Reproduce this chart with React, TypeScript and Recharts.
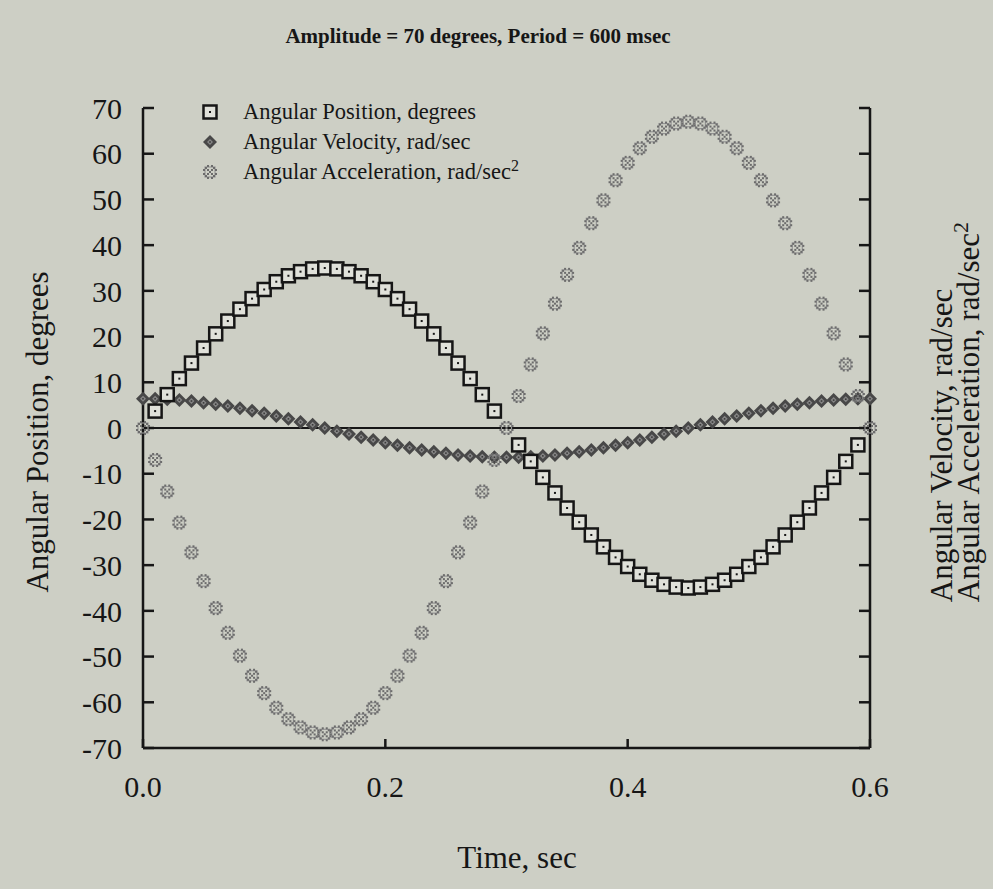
import React from "react";
import { ScatterChart, Scatter, XAxis, YAxis, ReferenceLine, Legend } from "recharts";

// sample times, sec
const TIME = [
  0, 0.01, 0.02, 0.03, 0.04, 0.05, 0.06, 0.07, 0.08, 0.09,
  0.1, 0.11, 0.12, 0.13, 0.14, 0.15, 0.16, 0.17, 0.18, 0.19,
  0.2, 0.21, 0.22, 0.23, 0.24, 0.25, 0.26, 0.27, 0.28, 0.29,
  0.3, 0.31, 0.32, 0.33, 0.34, 0.35, 0.36, 0.37, 0.38, 0.39,
  0.4, 0.41, 0.42, 0.43, 0.44, 0.45, 0.46, 0.47, 0.48, 0.49,
  0.5, 0.51, 0.52, 0.53, 0.54, 0.55, 0.56, 0.57, 0.58, 0.59, 0.6,
];

// degrees (no square shows where the position is exactly zero)
const POSITION: (number | null)[] = [
  null, 3.7, 7.3, 10.8, 14.2, 17.5, 20.6, 23.4, 26.0, 28.3,
  30.3, 32.0, 33.3, 34.2, 34.8, 35.0, 34.8, 34.2, 33.3, 32.0,
  30.3, 28.3, 26.0, 23.4, 20.6, 17.5, 14.2, 10.8, 7.3, 3.7,
  null, -3.7, -7.3, -10.8, -14.2, -17.5, -20.6, -23.4, -26.0, -28.3,
  -30.3, -32.0, -33.3, -34.2, -34.8, -35.0, -34.8, -34.2, -33.3, -32.0,
  -30.3, -28.3, -26.0, -23.4, -20.6, -17.5, -14.2, -10.8, -7.3, -3.7, null,
];

// rad/sec
const VELOCITY = [
  6.4, 6.4, 6.3, 6.1, 5.9, 5.5, 5.2, 4.8, 4.3, 3.8,
  3.2, 2.6, 2.0, 1.3, 0.7, 0, -0.7, -1.3, -2.0, -2.6,
  -3.2, -3.8, -4.3, -4.8, -5.2, -5.5, -5.9, -6.1, -6.3, -6.4,
  -6.4, -6.4, -6.3, -6.1, -5.9, -5.5, -5.2, -4.8, -4.3, -3.8,
  -3.2, -2.6, -2.0, -1.3, -0.7, 0, 0.7, 1.3, 2.0, 2.6,
  3.2, 3.8, 4.3, 4.8, 5.2, 5.5, 5.9, 6.1, 6.3, 6.4, 6.4,
];

// rad/sec^2
const ACCELERATION = [
  0, -7.0, -13.9, -20.7, -27.2, -33.5, -39.4, -44.8, -49.8, -54.2,
  -58.0, -61.2, -63.7, -65.5, -66.6, -67.0, -66.6, -65.5, -63.7, -61.2,
  -58.0, -54.2, -49.8, -44.8, -39.4, -33.5, -27.2, -20.7, -13.9, -7.0,
  0, 7.0, 13.9, 20.7, 27.2, 33.5, 39.4, 44.8, 49.8, 54.2,
  58.0, 61.2, 63.7, 65.5, 66.6, 67.0, 66.6, 65.5, 63.7, 61.2,
  58.0, 54.2, 49.8, 44.8, 39.4, 33.5, 27.2, 20.7, 13.9, 7.0, 0,
];

const X_TICKS = [0, 0.2, 0.4, 0.6];
const Y_TICKS = [-70, -60, -50, -40, -30, -20, -10, 0, 10, 20, 30, 40, 50, 60, 70];

const SERIES_NAMES = [
  "Angular Position, degrees",
  "Angular Velocity, rad/sec",
  "Angular Acceleration, rad/sec2",
];

const BG = "#cdcfc5";
const INK = "#161616";
const FONT = '"Liberation Serif", "Times New Roman", serif';

const toPoints = (vals: (number | null)[]) =>
  TIME.map((t, i) => ({ t, v: vals[i] })).filter((p) => p.v !== null);

function PosMarker({ cx, cy }: any) {
  return (
    <g>
      <rect x={cx - 6.5} y={cy - 6.5} width={13} height={13} fill="#e0e1da" stroke={INK} strokeWidth={2.5} />
      <rect x={cx - 1} y={cy - 1} width={2} height={2} fill={INK} />
    </g>
  );
}

function VelMarker({ cx, cy }: any) {
  const r = 7;
  return (
    <g>
      <path d={`M${cx},${cy - r}L${cx + r},${cy}L${cx},${cy + r}L${cx - r},${cy}Z`} fill="#484848" />
      <path d={`M${cx},${cy - 3}L${cx + 3},${cy}L${cx},${cy + 3}L${cx - 3},${cy}Z`} fill="#858585" />
      <rect x={cx - 0.8} y={cy - 0.8} width={1.6} height={1.6} fill="#3a3a3a" />
    </g>
  );
}

// dithered "crossed box" marker for acceleration
const ACC_CELLS: [number, number][] = [];
for (let i = 0; i < 7; i++) {
  for (let j = 0; j < 7; j++) {
    const corner = (i === 0 || i === 6) && (j === 0 || j === 6);
    const edge = i === 0 || i === 6 || j === 0 || j === 6;
    const diag = i === j || i + j === 6;
    if (!corner && (i + j) % 2 === 0 && (edge || diag)) ACC_CELLS.push([i, j]);
  }
}

function AccMarker({ cx, cy }: any) {
  return (
    <g>
      <rect x={cx - 5} y={cy - 5} width={10} height={10} fill="none" stroke="#959595" strokeWidth={1.2} />
      {ACC_CELLS.map(([i, j]) => (
        <rect key={`${i}-${j}`} x={cx - 7 + i * 2} y={cy - 7 + j * 2} width={2} height={2} fill="#6c6c6c" />
      ))}
    </g>
  );
}

const MARKERS = [PosMarker, VelMarker, AccMarker];

function LegendBox() {
  return (
    <div style={{ fontFamily: FONT, fontSize: 22.5, color: INK, lineHeight: "30px" }}>
      {SERIES_NAMES.map((name, i) => {
        const M = MARKERS[i];
        const label = name.endsWith("sec2") ? (
          <>
            {name.slice(0, -1)}
            <span style={{ fontSize: 16, verticalAlign: "super", lineHeight: 0 }}>2</span>
          </>
        ) : (
          name
        );
        return (
          <div key={name} style={{ display: "flex", alignItems: "center", whiteSpace: "nowrap", height: 30 }}>
            <svg width={20} height={20} style={{ marginRight: 23 }}>
              <M cx={10} cy={10} />
            </svg>
            <span>{label}</span>
          </div>
        );
      })}
    </div>
  );
}

const axisStroke = { stroke: INK, strokeWidth: 2.5 };
const tickFont = { fill: INK, fontSize: 30, fontFamily: FONT };

export default function App() {
  return (
    <div style={{ position: "fixed", left: 0, top: 0, width: 993, height: 889, background: BG, overflow: "hidden" }}>
      <div
        style={{
          position: "absolute", left: 0, top: 24, width: 956, textAlign: "center",
          fontFamily: FONT, fontWeight: "bold", fontSize: 21, color: INK,
        }}
      >
        Amplitude = 70 degrees, Period = 600 msec
      </div>

      <ScatterChart width={993} height={889} margin={{ top: 108, right: 63, bottom: 81, left: 63 }}>
        <XAxis
          type="number" dataKey="t" domain={[0, 0.6]} ticks={X_TICKS} interval={0}
          tickFormatter={(v: number) => v.toFixed(1)} height={60}
          axisLine={axisStroke} tickLine={axisStroke} tickSize={-9} tickMargin={37} tick={tickFont}
        />
        <YAxis
          yAxisId="left" type="number" dataKey="v" domain={[-70, 70]} ticks={Y_TICKS} interval={0} width={80}
          axisLine={axisStroke} tickLine={axisStroke} tickSize={-11} tickMargin={32} tick={tickFont}
        />
        <YAxis
          yAxisId="right" orientation="right" type="number" dataKey="v" domain={[-70, 70]} ticks={Y_TICKS} interval={0} width={60}
          axisLine={axisStroke} tickLine={axisStroke} tickSize={-11} tickFormatter={() => ""} tick={tickFont}
        />
        <ReferenceLine yAxisId="left" y={0} stroke={INK} strokeWidth={2} />
        <Legend
          layout="vertical" align="center" verticalAlign="middle"
          wrapperStyle={{ position: "absolute", left: 200, top: 97, width: "auto" }}
          content={() => <LegendBox />}
        />
        <Scatter yAxisId="right" name={SERIES_NAMES[1]} data={toPoints(VELOCITY)} shape={(p: any) => <VelMarker cx={p.cx} cy={p.cy} />} isAnimationActive={false} />
        <Scatter yAxisId="left" name={SERIES_NAMES[0]} data={toPoints(POSITION)} shape={(p: any) => <PosMarker cx={p.cx} cy={p.cy} />} isAnimationActive={false} />
        <Scatter yAxisId="right" name={SERIES_NAMES[2]} data={toPoints(ACCELERATION)} shape={(p: any) => <AccMarker cx={p.cx} cy={p.cy} />} isAnimationActive={false} />
      </ScatterChart>

      <div
        style={{
          position: "absolute", left: 38, top: 432, transform: "translate(-50%, -50%) rotate(-90deg)",
          fontFamily: FONT, fontSize: 31, color: INK, whiteSpace: "nowrap",
        }}
      >
        Angular Position, degrees
      </div>

      <div
        style={{
          position: "absolute", left: 955, top: 412, transform: "translate(-50%, -50%) rotate(-90deg)",
          fontFamily: FONT, fontSize: 31, color: INK, whiteSpace: "nowrap", lineHeight: "27px", textAlign: "left",
        }}
      >
        <div>Angular Velocity, rad/sec</div>
        <div>
          Angular Acceleration, rad/sec<span style={{ fontSize: 22, verticalAlign: "super", lineHeight: 0 }}>2</span>
        </div>
      </div>

      <div
        style={{
          position: "absolute", left: 0, top: 840, width: 1034, textAlign: "center",
          fontFamily: FONT, fontSize: 31, color: INK,
        }}
      >
        Time, sec
      </div>
    </div>
  );
}
